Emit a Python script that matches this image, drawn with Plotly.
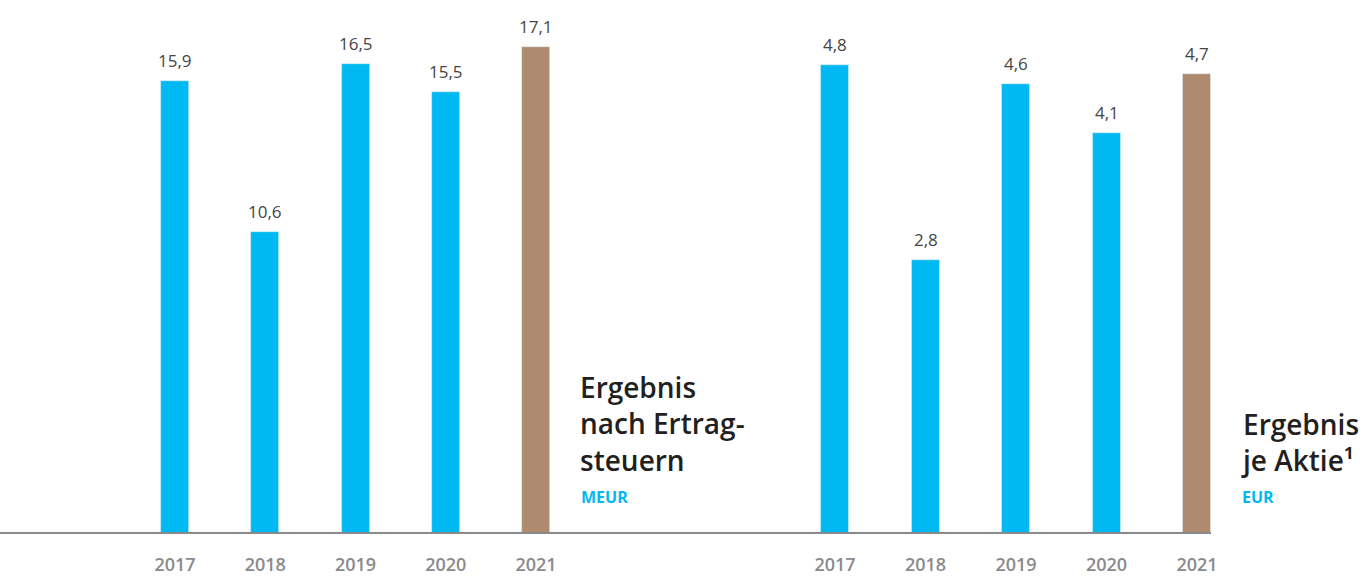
import plotly.graph_objects as go

W, H = 1364, 581

years = ["2017", "2018", "2019", "2020", "2021"]
ergebnis_meur = [15.9, 10.6, 16.5, 15.5, 17.1]
ergebnis_aktie_eur = [4.8, 2.8, 4.6, 4.1, 4.7]

title_left = "Ergebnis<br>nach Ertrag-<br>steuern"
unit_left = "MEUR"
title_right = "Ergebnis<br>je Aktie¹"
unit_right = "EUR"

CYAN = "#00b9f2"
BROWN = "#ae8b6e"
GRAY = "#8a8a8c"
DARK = "#231f20"
LABEL = "#454545"
FONT = "Open Sans"

bar_colors = [CYAN, CYAN, CYAN, CYAN, BROWN]

def px_x(p):
    return p / W

def px_y(p):
    return (H - p) / H

base_px = 533
ydom = [px_y(base_px), 1.0]
plot_h = base_px  # pixels from baseline to top

fig = go.Figure()
fig.add_trace(go.Bar(x=years, y=ergebnis_meur, marker_color=bar_colors, width=0.31,
                     xaxis="x", yaxis="y", showlegend=False, hoverinfo="x+y"))
fig.add_trace(go.Bar(x=years, y=ergebnis_aktie_eur, marker_color=bar_colors, width=0.31,
                     xaxis="x2", yaxis="y2", showlegend=False, hoverinfo="x+y"))

def fmt(v):
    return f"{v:.1f}".replace(".", ",")

annotations = []
for xr, yr, vals in (("x", "y", ergebnis_meur), ("x2", "y2", ergebnis_aktie_eur)):
    for i, v in enumerate(vals):
        annotations.append(dict(x=i, y=v, xref=xr, yref=yr, text=fmt(v),
                                showarrow=False, yanchor="bottom", yshift=7,
                                font=dict(family=FONT, size=17, color=LABEL, weight=400)))

annotations.append(dict(x=px_x(578), y=px_y(481), xref="paper", yref="paper",
                        text=title_left, showarrow=False, xanchor="left", yanchor="bottom",
                        align="left", font=dict(family=FONT, size=28, color=DARK, weight=600)))
annotations.append(dict(x=px_x(579), y=px_y(497), xref="paper", yref="paper",
                        text=unit_left, showarrow=False, xanchor="left", yanchor="middle",
                        align="left", font=dict(family=FONT, size=16, color=CYAN, weight=700)))
annotations.append(dict(x=px_x(1239), y=px_y(481), xref="paper", yref="paper",
                        text=title_right, showarrow=False, xanchor="left", yanchor="bottom",
                        align="left", font=dict(family=FONT, size=28, color=DARK, weight=600)))
annotations.append(dict(x=px_x(1240), y=px_y(497), xref="paper", yref="paper",
                        text=unit_right, showarrow=False, xanchor="left", yanchor="middle",
                        align="left", font=dict(family=FONT, size=16, color=CYAN, weight=700)))

xaxis_common = dict(type="category", range=[-0.5, 4.5], showgrid=False, zeroline=False,
                    showline=False, ticks="", ticklabelstandoff=19,
                    tickfont=dict(family=FONT, size=18, color=GRAY, weight=600),
                    fixedrange=True)
yaxis_common = dict(showgrid=False, zeroline=False, showline=False, showticklabels=False,
                    ticks="", domain=ydom, fixedrange=True)

left_spacing = 90.25
right_spacing = 90.5
fig.update_layout(
    width=W, height=H,
    margin=dict(l=0, r=0, t=0, b=0),
    paper_bgcolor="white", plot_bgcolor="white",
    bargap=0,
    xaxis=dict(**xaxis_common, domain=[px_x(175 - 0.5 * left_spacing), px_x(175 + 4.5 * left_spacing)], anchor="y"),
    yaxis=dict(**yaxis_common, range=[0, plot_h / 28.44], anchor="x"),
    xaxis2=dict(**xaxis_common, domain=[px_x(835 - 0.5 * right_spacing), px_x(835 + 4.5 * right_spacing)], anchor="y2"),
    yaxis2=dict(**yaxis_common, range=[0, plot_h / 97.6], anchor="x2"),
    annotations=annotations,
    shapes=[dict(type="line", xref="paper", yref="paper", x0=0, x1=px_x(1211),
                 y0=px_y(base_px), y1=px_y(base_px), line=dict(color=GRAY, width=2))],
)

fig.write_html("out.html", config={"displayModeBar": False},
               post_script="document.body.style.margin='0';")
